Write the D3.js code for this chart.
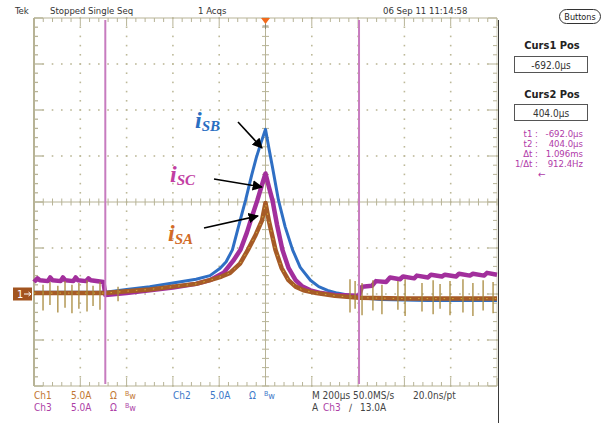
<!DOCTYPE html>
<html>
<head>
<meta charset="utf-8">
<script src="https://cdn.jsdelivr.net/npm/d3@7"></script>
<style>
  body { margin: 0; background: #fff; }
  svg { display: block; font-family: 'Liberation Sans Narrow', 'DejaVu Sans Condensed', Roboto, sans-serif; }
</style>
</head>
<body>
<svg id="scope" width="605" height="423"></svg>
<script>
// Channel data: time in µs, current in A (5 A/div, 200 µs/div)
const ch1T = [-1000,-692,-600,-500,-400,-300,-240,-190,-153,-110,-76,-45,-15,0,15,43,70,99,130,164,220,300,404,600,1000];
const ch1V = [0.1,0.1,0.3,0.5,0.8,1.1,1.5,1.9,2.3,3.3,4.8,6.3,8.0,9.9,7.9,4.8,2.8,1.5,0.8,0.4,0.1,-0.2,-0.4,-0.5,-0.5];

const ch2T = [-1000,-692,-600,-500,-400,-300,-240,-196,-170,-143,-120,-100,-86,-60,-40,-20,0,15,30,56,85,117,150,194,230,268,310,354,404,500,700,1000];
const ch2V = [0.2,0.2,0.5,0.8,1.2,1.6,2.0,2.8,3.5,4.8,7.0,8.9,10.2,12.9,14.8,16.4,17.9,15.8,13.8,10.2,7.3,4.8,2.9,1.5,0.8,0.4,0.1,-0.1,-0.4,-0.6,-0.7,-0.7];

const ch3T = [-1000,-985,-975,-940,-930,-920,-885,-875,-865,-830,-820,-810,-775,-765,-755,-700,-692,
  -600,-500,-400,-300,-240,-181,-140,-108,-80,-60,-35,-15,0,
  15,30,50,73,100,130,160,194,240,300,404,
  417,460,477,521,538,581,594,642,654,702,715,762,775,823,836,883,896,944,957,1000];
const ch3V = [1.3,1.7,1.5,1.4,1.8,1.5,1.4,1.8,1.5,1.4,1.8,1.5,1.4,1.7,1.5,1.3,-0.1,
  0.1,0.4,0.7,1.1,1.5,2.3,3.6,4.8,6.7,8.3,10.2,11.9,13.1,
  11.6,10.2,7.5,4.8,2.8,1.5,0.8,0.4,0.1,-0.1,-0.2,
  0.8,0.9,1.4,1.3,1.8,1.6,1.9,1.7,2.0,1.8,2.1,1.9,2.1,1.9,2.2,2.0,2.2,2.0,2.3,2.1];

// switching spikes on Ch1
const spikeT  = [-961,-931,-897,-866,-836,-806,-771,-745,-715,-637,365,387,417,464,503,572,603,676,724,754,797,853,896,940,983];
const spikeHi = [1.0,1.3,0.9,1.4,1.0,1.2,1.5,0.9,1.3,0.8,1.6,1.4,1.2,1.5,1.0,1.4,1.6,1.2,1.5,1.1,1.4,1.6,1.2,1.5,1.3];
const spikeLo = [-1.8,-1.2,-2.0,-1.5,-2.1,-1.6,-1.9,-1.3,-1.7,-0.8,-2.0,-1.6,-2.3,-1.8,-2.2,-1.7,-2.4,-1.9,-2.2,-1.6,-2.3,-2.0,-2.4,-1.8,-2.1];

const cursorT = [-692, 404];
const readLabels = ["t1 :", "t2 :", "\u0394t :", "1/\u0394t :"];
const readValues = ["-692.0\u00b5s", "404.0\u00b5s", "1.096ms", "912.4Hz"];

const svg = d3.select("#scope");
const pL = 34, pR = 497, pT = 18, pB = 386;
const x = d3.scaleLinear().domain([-1000, 1000]).range([pL, pR]);
const y = d3.scaleLinear().domain([-10, 30]).range([pB, pT]);

const gridColor = "#bdb999", rulerColor = "#b7b396";

// dotted graticule
const grid = svg.append("g");
const xMinor = d3.range(-1000, 1001, 40);
const yMinor = d3.range(-10, 31, 1);
const xMajor = [-800, -600, -400, -200, 200, 400, 600, 800];
const yMajor = [-5, 0, 5, 15, 20, 25];
xMajor.forEach(t => yMinor.forEach(v => {
  grid.append("rect").attr("x", x(t) - 0.8).attr("y", y(v) - 0.8)
    .attr("width", 1.6).attr("height", 1.6).attr("fill", gridColor);
}));
yMajor.forEach(v => xMinor.forEach(t => {
  grid.append("rect").attr("x", x(t) - 0.8).attr("y", y(v) - 0.8)
    .attr("width", 1.6).attr("height", 1.6).attr("fill", gridColor);
}));

// center crosshair with ticks
grid.append("line").attr("x1", x(0)).attr("x2", x(0)).attr("y1", pT).attr("y2", pB)
  .attr("stroke", rulerColor).attr("stroke-width", 1);
grid.append("line").attr("x1", pL).attr("x2", pR).attr("y1", y(10)).attr("y2", y(10))
  .attr("stroke", rulerColor).attr("stroke-width", 1);
yMinor.forEach(v => grid.append("line").attr("x1", x(0) - 3.5).attr("x2", x(0) + 3.5)
  .attr("y1", y(v)).attr("y2", y(v)).attr("stroke", rulerColor));
xMinor.forEach(t => grid.append("line").attr("x1", x(t)).attr("x2", x(t))
  .attr("y1", y(10) - 3.5).attr("y2", y(10) + 3.5).attr("stroke", rulerColor));

// border rulers
grid.append("line").attr("x1", pL).attr("x2", pR).attr("y1", pT).attr("y2", pT).attr("stroke", rulerColor);
grid.append("line").attr("x1", pL).attr("x2", pR).attr("y1", pB).attr("y2", pB).attr("stroke", rulerColor);
grid.append("line").attr("x1", pL).attr("x2", pL).attr("y1", pT).attr("y2", pB).attr("stroke", rulerColor).attr("stroke-width", 2);
grid.append("line").attr("x1", pR).attr("x2", pR).attr("y1", pT).attr("y2", pB).attr("stroke", rulerColor).attr("stroke-width", 0.6);
xMinor.forEach((t, i) => {
  const len = i % 5 === 0 ? 8 : 4;
  grid.append("line").attr("x1", x(t)).attr("x2", x(t)).attr("y1", pT).attr("y2", pT + len).attr("stroke", rulerColor);
  grid.append("line").attr("x1", x(t)).attr("x2", x(t)).attr("y1", pB).attr("y2", pB - len).attr("stroke", rulerColor);
});
yMinor.forEach((v, i) => {
  const len = i % 5 === 0 ? 9 : 4;
  grid.append("line").attr("x1", pL).attr("x2", pL + len).attr("y1", y(v)).attr("y2", y(v)).attr("stroke", rulerColor).attr("stroke-width", 1.3);
  grid.append("line").attr("x1", pR).attr("x2", pR - len).attr("y1", y(v)).attr("y2", y(v)).attr("stroke", rulerColor);
});

// right separator
svg.append("line").attr("x1", 498.5).attr("x2", 498.5).attr("y1", 20).attr("y2", 423)
  .attr("stroke", "#3a3a3a").attr("stroke-width", 1);

// trigger position marker
svg.append("path").attr("d", `M${x(0) - 4.5},${pT} L${x(0) + 4.5},${pT} L${x(0)},${pT + 6} Z`).attr("fill", "#f26a1b");
svg.append("path").attr("d", `M${x(0) - 3},${pT + 8} H${x(0) + 3} M${x(0)},${pT + 6} V${pT + 11}`)
  .attr("stroke", "#8a8670").attr("stroke-width", 1);

// traces
const line = d3.line().x(d => x(d[0])).y(d => y(d[1]));
const traces = [
  { t: ch2T, v: ch2V, color: "#2f6fc4", w: 3 },
  { t: ch3T, v: ch3V, color: "#a22f9c", w: 4.5 },
  { t: ch1T, v: ch1V, color: "#a65b27", w: 4.5 }
];
traces.forEach(tr => {
  svg.append("path").datum(d3.zip(tr.t, tr.v)).attr("d", line)
    .attr("fill", "none").attr("stroke", tr.color).attr("stroke-width", tr.w)
    .attr("stroke-linejoin", "round");
});
svg.append("path").datum(d3.zip(ch1T, ch1V)).attr("d", line)
  .attr("fill", "none").attr("stroke", "#d9c23a").attr("stroke-width", 1)
  .attr("stroke-dasharray", "1.5 7").attr("opacity", 0.8);

svg.append("g").selectAll("line").data(d3.range(spikeT.length)).enter().append("line")
  .attr("x1", i => x(spikeT[i])).attr("x2", i => x(spikeT[i]))
  .attr("y1", i => y(spikeHi[i])).attr("y2", i => y(spikeLo[i]))
  .attr("stroke", "#a8893c").attr("stroke-width", 1.3);

// cursors
cursorT.forEach(t => {
  svg.append("line").attr("x1", x(t)).attr("x2", x(t)).attr("y1", pT + 2).attr("y2", pB - 2)
    .attr("stroke", "#c77cbf").attr("stroke-width", 2);
});

// ground marker for Ch1
svg.append("rect").attr("x", 13).attr("y", y(0) - 6.5).attr("width", 19).attr("height", 13).attr("fill", "#a2541f");
svg.append("text").attr("x", 17).attr("y", y(0) + 4).attr("fill", "#fff").attr("font-size", 11).text("1");
svg.append("path").attr("d", `M24,${y(0)} H31 M28.5,${y(0) - 2} L31,${y(0)} L28.5,${y(0) + 2}`)
  .attr("stroke", "#fff").attr("fill", "none").attr("stroke-width", 1);

// annotations
svg.append("defs").append("marker").attr("id", "ah").attr("viewBox", "0 0 10 10")
  .attr("refX", 9).attr("refY", 5).attr("markerWidth", 6.5).attr("markerHeight", 6.5)
  .attr("orient", "auto").append("path").attr("d", "M0,0 L10,5 L0,10 Z").attr("fill", "#000");
const notes = [
  { lx: 195, ly: 128, sub: "SB", color: "#2a6fc2", ax1: 238, ay1: 122, ax2: 262, ay2: 148 },
  { lx: 170, ly: 182, sub: "SC", color: "#c23ea3", ax1: 214, ay1: 179, ax2: 262, ay2: 187 },
  { lx: 168, ly: 241, sub: "SA", color: "#d26a27", ax1: 204, ay1: 228, ax2: 258, ay2: 216 }
];
notes.forEach(n => {
  const t = svg.append("text").attr("x", n.lx).attr("y", n.ly).attr("fill", n.color)
    .attr("font-family", "'Liberation Serif', 'DejaVu Serif', serif")
    .attr("font-style", "italic").attr("font-weight", "bold");
  t.append("tspan").attr("font-size", 24).text("i");
  t.append("tspan").attr("font-size", 15).attr("dy", 3).text(n.sub);
  svg.append("line").attr("x1", n.ax1).attr("y1", n.ay1).attr("x2", n.ax2).attr("y2", n.ay2)
    .attr("stroke", "#000").attr("stroke-width", 1.6).attr("marker-end", "url(#ah)");
});

// top status line
const status = [["Tek", 15], ["Stopped", 50], ["Single Seq", 88], ["1 Acqs", 198], ["06 Sep 11 11:14:58", 383]];
status.forEach(s => svg.append("text").attr("x", s[1]).attr("y", 14).attr("font-size", 9.5).attr("fill", "#333").text(s[0]));

// bottom channel readouts
function chRow(name, color, x0, yy) {
  svg.append("text").attr("x", x0).attr("y", yy).attr("font-size", 10).attr("fill", color).text(name);
  svg.append("text").attr("x", x0 + 37).attr("y", yy).attr("font-size", 10).attr("fill", color).text("5.0A");
  svg.append("text").attr("x", x0 + 76).attr("y", yy).attr("font-size", 10).attr("fill", color).text("\u03a9");
  const bw = svg.append("text").attr("x", x0 + 91).attr("y", yy).attr("fill", color);
  bw.append("tspan").attr("font-size", 7).attr("dy", -3).text("B");
  bw.append("tspan").attr("font-size", 9).attr("dy", 3).text("w");
}
chRow("Ch1", "#c27733", 34, 399);
chRow("Ch2", "#3d78c8", 173, 399);
chRow("Ch3", "#ad3fa6", 34, 411);
svg.append("text").attr("x", 312).attr("y", 399).attr("font-size", 10).attr("fill", "#444").text("M 200\u00b5s 50.0MS/s");
svg.append("text").attr("x", 413).attr("y", 399).attr("font-size", 10).attr("fill", "#444").text("20.0ns/pt");
svg.append("text").attr("x", 312).attr("y", 411).attr("font-size", 10).attr("fill", "#444").text("A");
svg.append("text").attr("x", 323).attr("y", 411).attr("font-size", 10).attr("fill", "#ad3fa6").text("Ch3");
svg.append("text").attr("x", 349).attr("y", 411).attr("font-size", 10).attr("fill", "#444").text("\u2215");
svg.append("text").attr("x", 360).attr("y", 411).attr("font-size", 10).attr("fill", "#444").text("13.0A");

// side panel
svg.append("rect").attr("x", 559.5).attr("y", 9.5).attr("width", 41).attr("height", 14).attr("rx", 7)
  .attr("fill", "#fff").attr("stroke", "#333");
svg.append("text").attr("x", 580).attr("y", 20).attr("text-anchor", "middle").attr("font-size", 9).attr("fill", "#222").text("Buttons");
[["Curs1 Pos", "-692.0\u00b5s", 49, 56], ["Curs2 Pos", "404.0\u00b5s", 98, 104]].forEach(c => {
  svg.append("text").attr("x", 552).attr("y", c[2]).attr("text-anchor", "middle").attr("font-size", 11)
    .attr("font-weight", "bold").attr("fill", "#222").text(c[0]);
  svg.append("rect").attr("x", 514.5).attr("y", c[3] + 0.5).attr("width", 73).attr("height", 16)
    .attr("fill", "#fff").attr("stroke", "#555");
  svg.append("text").attr("x", 551).attr("y", c[3] + 12.5).attr("text-anchor", "middle").attr("font-size", 10)
    .attr("fill", "#333").text(c[1]);
});
readLabels.forEach((l, i) => {
  svg.append("text").attr("x", 538).attr("y", 137 + i * 10).attr("text-anchor", "end").attr("font-size", 9.5)
    .attr("fill", "#b03aa8").text(l);
  svg.append("text").attr("x", 583).attr("y", 137 + i * 10).attr("text-anchor", "end").attr("font-size", 9.5)
    .attr("fill", "#b03aa8").text(readValues[i]);
});
svg.append("text").attr("x", 538).attr("y", y(13) + 3.5).attr("font-size", 10).attr("fill", "#b03aa8").text("\u2190");
</script>
</body>
</html>
